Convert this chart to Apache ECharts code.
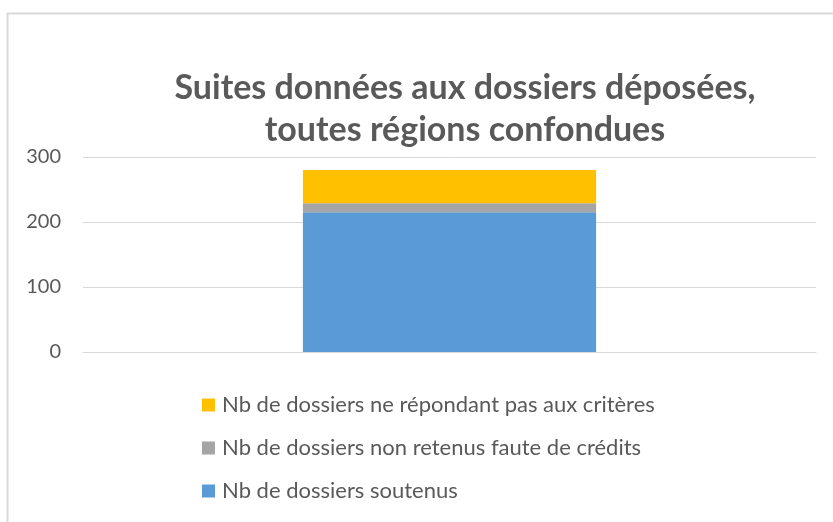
<!DOCTYPE html>
<html>
<head>
<meta charset="utf-8">
<script src="https://cdn.jsdelivr.net/npm/echarts@6/dist/echarts.min.js"></script>
<style>
    html, body { margin: 0; padding: 0; background: #fff; }
    #chart { width: 833px; height: 522px; }
</style>
</head>
<body>
<div id="chart"></div>
<script>
    // data
    var categories = ['1'];
    var soutenus = [215];
    var nonRetenus = [14];
    var nonCriteres = [51];
    var yTicks = { min: 0, max: 300, interval: 100 };

    var names = [
        'Nb de dossiers soutenus',
        'Nb de dossiers non retenus faute de crédits',
        'Nb de dossiers ne répondant pas aux critères'
    ];
    var colors = ['#5b9bd5', '#a5a5a5', '#ffc000'];
    var textColor = '#595959';
    var font = 'Lato, "Open Sans", sans-serif';

    var chart = echarts.init(document.getElementById('chart'));

    var option = {
        color: colors,
        animation: false,
        title: {
            text: 'Suites données aux dossiers déposées,\ntoutes régions confondues',
            left: 460,
            textAlign: 'center',
            top: 62,
            textStyle: {
                color: textColor,
                fontFamily: font,
                fontWeight: 'bold',
                fontSize: 34,
                lineHeight: 42
            }
        },
        graphic: [{
            type: 'rect',
            shape: { x: 7.5, y: 13.5, width: 900, height: 600 },
            style: { fill: 'none', stroke: '#d9d9d9', lineWidth: 2 },
            silent: true
        }],
        legend: {
            orient: 'vertical',
            left: 197,
            top: 389,
            itemWidth: 13,
            itemHeight: 13,
            itemGap: 21,
            icon: 'rect',
            data: [names[2], names[1], names[0]],
            textStyle: {
                color: textColor,
                fontFamily: font,
                fontSize: 22,
                padding: [0, 0, 0, 2]
            }
        },
        grid: {
            left: 83,
            right: 17,
            top: 157,
            bottom: 170
        },
        xAxis: {
            type: 'category',
            data: categories,
            axisLabel: { show: false },
            axisTick: { show: false },
            axisLine: { lineStyle: { color: '#d9d9d9', width: 1 } }
        },
        yAxis: {
            type: 'value',
            min: yTicks.min,
            max: yTicks.max,
            interval: yTicks.interval,
            axisLine: { show: false },
            axisTick: { show: false },
            axisLabel: {
                color: textColor,
                fontFamily: font,
                fontSize: 20,
                margin: 22
            },
            splitLine: { lineStyle: { color: '#d9d9d9', width: 1 } }
        },
        series: [{
            name: names[0],
            type: 'bar',
            stack: 'total',
            barWidth: '40%',
            data: soutenus
        }, {
            name: names[1],
            type: 'bar',
            stack: 'total',
            data: nonRetenus
        }, {
            name: names[2],
            type: 'bar',
            stack: 'total',
            data: nonCriteres
        }]
    };

    chart.setOption(option);
</script>
</body>
</html>
